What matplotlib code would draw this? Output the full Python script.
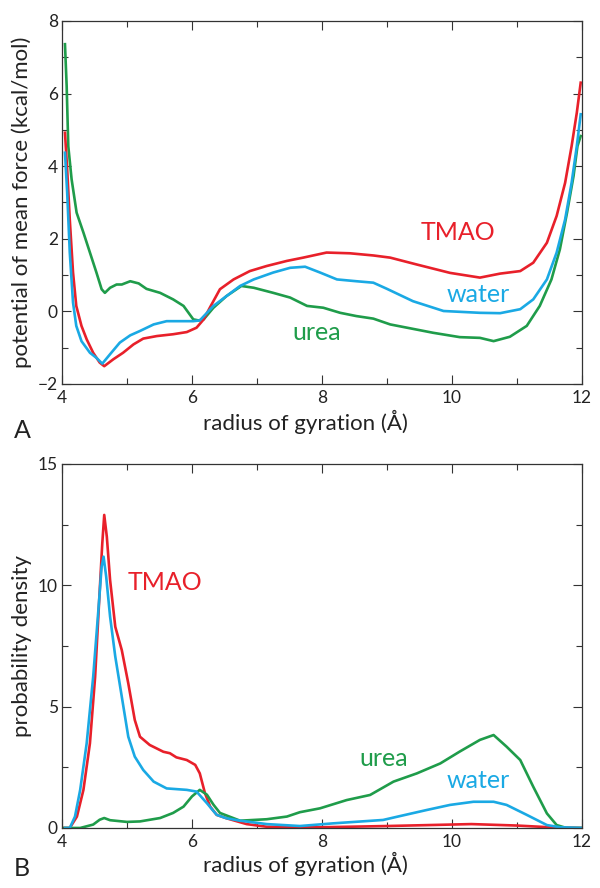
import matplotlib
matplotlib.use("Agg")
import matplotlib.pyplot as plt
from matplotlib.ticker import MultipleLocator

plt.rcParams['font.family'] = ['Lato', 'DejaVu Sans']

RED = '#e8202a'
BLUE = '#1aa9e4'
GREEN = '#1f9c4a'
INK = '#222222'

# panel A: potential of mean force (kcal/mol) vs radius of gyration
pmf_tmao_x = [4.046, 4.08, 4.12, 4.17, 4.22, 4.3, 4.38, 4.48, 4.58, 4.65, 4.79, 4.94, 5.1, 5.25, 5.46,
              5.71, 5.92, 6.07, 6.18, 6.28, 6.43, 6.64, 6.89, 7.15, 7.46, 7.71, 8.07, 8.43, 8.79,
              9.05, 9.46, 9.97, 10.43, 10.74, 11.05, 11.25, 11.46, 11.61, 11.74, 11.84, 11.92, 11.98]
pmf_tmao_y = [4.92, 3.91, 2.53, 1.07, 0.15, -0.4, -0.77, -1.14, -1.41, -1.51, -1.32, -1.14, -0.91, -0.75, -0.68,
              -0.63, -0.57, -0.45, -0.22, 0.12, 0.61, 0.88, 1.11, 1.25, 1.39, 1.48, 1.62, 1.6, 1.54,
              1.48, 1.29, 1.06, 0.93, 1.04, 1.11, 1.34, 1.89, 2.63, 3.54, 4.55, 5.47, 6.3]

pmf_water_x = [4.046, 4.08, 4.12, 4.17, 4.22, 4.3, 4.43, 4.53, 4.62, 4.74, 4.89, 5.05, 5.2, 5.41, 5.61,
               5.82, 6.02, 6.12, 6.33, 6.53, 6.74, 6.95, 7.25, 7.51, 7.74, 7.97, 8.23, 8.53, 8.79,
               9.0, 9.4, 9.87, 10.43, 10.74, 11.05, 11.25, 11.46, 11.61, 11.74, 11.84, 11.92, 11.98]
pmf_water_y = [4.37, 3.27, 1.62, 0.24, -0.4, -0.82, -1.14, -1.28, -1.44, -1.18, -0.86, -0.66, -0.54, -0.36, -0.27,
               -0.27, -0.27, -0.25, 0.15, 0.42, 0.7, 0.88, 1.07, 1.2, 1.23, 1.07, 0.88, 0.83, 0.79,
               0.62, 0.28, 0.01, -0.04, -0.05, 0.06, 0.33, 0.88, 1.62, 2.53, 3.54, 4.55, 5.43]

pmf_urea_x = [4.046, 4.072, 4.097, 4.148, 4.225, 4.33, 4.43, 4.53, 4.61, 4.66, 4.74, 4.84, 4.92, 5.05, 5.18,
              5.3, 5.51, 5.71, 5.87, 6.02, 6.1, 6.18, 6.33, 6.53, 6.76, 6.95, 7.25, 7.51, 7.77,
              8.02, 8.28, 8.53, 8.79, 9.05, 9.71, 10.12, 10.43, 10.64, 10.89, 11.15, 11.35, 11.53,
              11.66, 11.77, 11.87, 11.93, 11.98]
pmf_urea_y = [7.36, 6.21, 4.55, 3.64, 2.72, 2.17, 1.62, 1.07, 0.61, 0.51, 0.65, 0.74, 0.74, 0.83, 0.77,
              0.62, 0.51, 0.33, 0.15, -0.22, -0.25, -0.22, 0.1, 0.42, 0.7, 0.65, 0.51, 0.38, 0.15,
              0.1, -0.04, -0.13, -0.2, -0.36, -0.59, -0.71, -0.73, -0.82, -0.7, -0.4, 0.15, 0.88,
              1.71, 2.72, 3.73, 4.55, 4.83]

# panel B: probability density vs radius of gyration
pd_tmao_x = [4.0, 4.12, 4.23, 4.33, 4.43, 4.51, 4.57, 4.62, 4.65, 4.69, 4.74, 4.82, 4.92, 5.02, 5.12,
             5.2, 5.35, 5.56, 5.66, 5.76, 5.92, 6.05, 6.12, 6.2, 6.28, 6.38, 6.53, 6.84, 7.15,
             8.0, 9.0, 10.3, 11.0, 11.5, 12.0]
pd_tmao_y = [0.0, 0.0, 0.47, 1.57, 3.49, 6.23, 9.26, 11.73, 12.9, 12.0, 10.22, 8.29, 7.33, 5.96, 4.45,
             3.76, 3.42, 3.14, 3.08, 2.91, 2.8, 2.6, 2.25, 1.43, 0.88, 0.54, 0.4, 0.16, 0.05,
             0.03, 0.08, 0.16, 0.1, 0.03, 0.0]

pd_water_x = [4.05, 4.12, 4.2, 4.28, 4.38, 4.48, 4.56, 4.61, 4.64, 4.68, 4.74, 4.82, 4.92, 5.02, 5.12,
              5.25, 5.41, 5.61, 5.92, 6.07, 6.23, 6.38, 6.53, 6.74, 7.15, 7.66, 8.17, 8.94, 9.2,
              9.61, 9.97, 10.33, 10.64, 10.84, 11.15, 11.46, 11.66, 12.0]
pd_water_y = [0.0, 0.0, 0.47, 1.57, 3.49, 6.23, 8.98, 10.77, 11.18, 10.36, 8.71, 7.06, 5.41, 3.76, 2.94,
              2.39, 1.91, 1.63, 1.57, 1.5, 1.02, 0.54, 0.4, 0.3, 0.16, 0.08, 0.19, 0.33, 0.49,
              0.74, 0.95, 1.08, 1.08, 0.95, 0.54, 0.12, 0.03, 0.0]

pd_urea_x = [4.0, 4.28, 4.48, 4.58, 4.65, 4.74, 5.0, 5.2, 5.51, 5.71, 5.87, 6.0, 6.12, 6.23, 6.33,
             6.43, 6.74, 7.15, 7.46, 7.66, 7.97, 8.38, 8.74, 9.1, 9.46, 9.82, 10.12, 10.43, 10.64,
             10.84, 11.05, 11.25, 11.46, 11.61, 11.76, 12.0]
pd_urea_y = [0.0, 0.0, 0.14, 0.34, 0.41, 0.32, 0.25, 0.27, 0.41, 0.62, 0.88, 1.3, 1.57, 1.37, 0.96,
             0.62, 0.3, 0.36, 0.47, 0.65, 0.81, 1.15, 1.36, 1.91, 2.25, 2.66, 3.15, 3.63, 3.83,
             3.35, 2.8, 1.7, 0.6, 0.12, 0.0, 0.0]


def style_axes(ax, ymin, ymax, ymajor, yminor):
    ax.set_xlim(4, 12)
    ax.set_ylim(ymin, ymax)
    ax.xaxis.set_major_locator(MultipleLocator(2))
    ax.xaxis.set_minor_locator(MultipleLocator(1))
    ax.yaxis.set_major_locator(MultipleLocator(ymajor))
    ax.yaxis.set_minor_locator(MultipleLocator(yminor))
    ax.tick_params(which='both', direction='in', top=True, right=True,
                   width=0.8, color='#333333', labelsize=12.5, labelcolor=INK)
    ax.tick_params(axis='x', pad=4)
    ax.tick_params(axis='y', pad=3)
    ax.tick_params(which='major', length=6.5)
    ax.tick_params(which='minor', length=4)
    for s in ax.spines.values():
        s.set_linewidth(0.9)
        s.set_color('#333333')


fig = plt.figure(figsize=(6, 8.88), dpi=100)
ax1 = fig.add_axes([0.1033, 0.5676, 0.8667, 0.4088])
ax2 = fig.add_axes([0.1033, 0.0676, 0.8667, 0.4099])

ax1.plot(pmf_urea_x, pmf_urea_y, color=GREEN, lw=1.9)
ax1.plot(pmf_tmao_x, pmf_tmao_y, color=RED, lw=1.9)
ax1.plot(pmf_water_x, pmf_water_y, color=BLUE, lw=1.9)
style_axes(ax1, -2, 8, 2, 1)
ax1.set_ylabel('potential of mean force (kcal/mol)', fontsize=16, color=INK)
ax1.set_xlabel('radius of gyration (Å)', fontsize=16, color=INK)
ax1.xaxis.set_label_coords(0.469, -0.072)
ax1.yaxis.set_label_coords(-0.058, 0.5)
ax1.text(10.09, 2.18, 'TMAO', color=RED, fontsize=18, ha='center', va='center')
ax1.text(10.4, 0.47, 'water', color=BLUE, fontsize=18, ha='center', va='center')
ax1.text(7.92, -0.58, 'urea', color=GREEN, fontsize=18, ha='center', va='center')

ax2.plot(pd_tmao_x, pd_tmao_y, color=RED, lw=1.9)
ax2.plot(pd_urea_x, pd_urea_y, color=GREEN, lw=1.9)
ax2.plot(pd_water_x, pd_water_y, color=BLUE, lw=1.9)
style_axes(ax2, 0, 15, 5, 2.5)
ax2.set_ylabel('probability density', fontsize=16, color=INK)
ax2.set_xlabel('radius of gyration (Å)', fontsize=16, color=INK)
ax2.xaxis.set_label_coords(0.469, -0.066)
ax2.yaxis.set_label_coords(-0.058, 0.5)
ax2.text(5.58, 10.1, 'TMAO', color=RED, fontsize=18, ha='center', va='center')
ax2.text(8.95, 2.85, 'urea', color=GREEN, fontsize=18, ha='center', va='center')
ax2.text(10.4, 1.97, 'water', color=BLUE, fontsize=18, ha='center', va='center')

fig.text(22 / 600, 1 - 430 / 888, 'A', fontsize=18, color=INK, ha='center', va='center')
fig.text(22 / 600, 1 - 868 / 888, 'B', fontsize=18, color=INK, ha='center', va='center')

fig.savefig('out.png', dpi=100)
